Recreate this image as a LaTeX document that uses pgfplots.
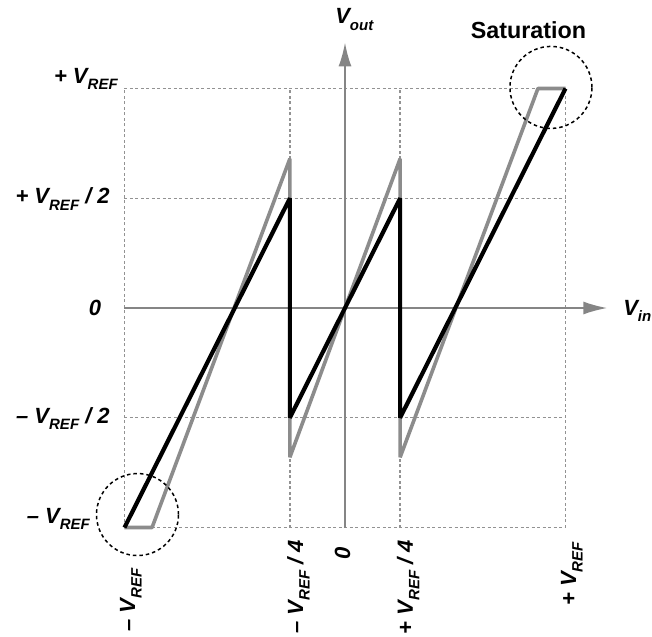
\documentclass[border=0pt]{standalone}
\usepackage{fontspec}
\setmainfont{Liberation Sans}
\usepackage{pgfplots}
\pgfplotsset{compat=1.18}
\usetikzlibrary{arrows.meta}

\definecolor{axisgray}{HTML}{858585}
\definecolor{gridgray}{HTML}{929292}
\definecolor{idealgray}{HTML}{8C8C8C}

\newcommand{\lbl}{\fontsize{22}{26}\selectfont\bfseries\itshape}
\newcommand{\sub}[1]{\raisebox{-6.5pt}{\fontsize{15}{17}\selectfont #1}}
\newcommand{\vref}{V\sub{REF}}

\begin{document}
\begin{tikzpicture}
\begin{axis}[
  x=220.5pt, y=219.5pt,
  xmin=-1, xmax=1, ymin=-1, ymax=1,
  hide axis, clip=false,
]
% dotted reference grid
\tikzset{gridline/.style={gridgray, line width=1.35pt, dash pattern=on 3pt off 2.5pt}}
\draw[gridline] (axis cs:-1,1) -- (axis cs:1,1);
\draw[gridline] (axis cs:-1,0.5) -- (axis cs:1,0.5);
\draw[gridline] (axis cs:-1,-0.5) -- (axis cs:1,-0.5);
\draw[gridline] (axis cs:-1,-1) -- (axis cs:1,-1);
\draw[gridline] (axis cs:-1,-1) -- (axis cs:-1,1);
\draw[gridline] (axis cs:-0.25,-1) -- (axis cs:-0.25,1);
\draw[gridline] (axis cs:0.25,-1) -- (axis cs:0.25,1);
\draw[gridline] (axis cs:1,-1) -- (axis cs:1,1);

% axes with arrows
\draw[axisgray, line width=2pt, -{Latex[length=24pt, width=13pt]}]
  (axis cs:-1,0) -- (axis cs:1.19,0);
\draw[axisgray, line width=2pt, -{Latex[length=24pt, width=13pt]}]
  (axis cs:0,-1) -- (axis cs:0,1.21);

% transfer with saturation (gray)
\addplot[idealgray, line width=3.6pt, line join=bevel] coordinates {
  (-1,-1) (-0.875,-1) (-0.25,0.68) (-0.25,-0.68) (0.25,0.68)
  (0.25,-0.68) (0.875,1) (1,1)
};
% transfer (black)
\addplot[black, line width=4.2pt, line join=bevel] coordinates {
  (-1,-1) (-0.25,0.5) (-0.25,-0.5) (0.25,0.5) (0.25,-0.5) (1,1)
};

% saturation regions
\draw[black, line width=1.5pt, dash pattern=on 3.5pt off 3pt]
  (axis cs:-0.941,-0.941) circle[radius=41pt];
\draw[black, line width=1.5pt, dash pattern=on 3.5pt off 3pt]
  (axis cs:0.934,1.005) circle[radius=41pt];

% vertical-axis labels
\node[anchor=base east, inner sep=0pt] at (axis cs:-1.03,1.025) {\lbl + \vref};
\node[anchor=base east, inner sep=0pt] at (axis cs:-1.066,0.474) {\lbl + \vref{} / 2};
\node[anchor=center, inner sep=0pt] at (axis cs:-1.134,0) {\lbl 0};
\node[anchor=base east, inner sep=0pt] at (axis cs:-1.066,-0.524) {\lbl -- \vref{} / 2};
\node[anchor=base east, inner sep=0pt] at (axis cs:-1.156,-0.98) {\lbl -- \vref};

% horizontal-axis labels
\node[rotate=90, anchor=base east, inner sep=0pt] at (axis cs:-0.952,-1.185) {\lbl -- \vref};
\node[rotate=90, anchor=base east, inner sep=0pt] at (axis cs:-0.19,-1.057) {\lbl -- \vref{} / 4};
\node[rotate=90, anchor=base east, inner sep=0pt] at (axis cs:0.023,-1.09) {\lbl 0};
\node[rotate=90, anchor=base east, inner sep=0pt] at (axis cs:0.308,-1.057) {\lbl + \vref{} / 4};
\node[rotate=90, anchor=base east, inner sep=0pt] at (axis cs:1.048,-1.066) {\lbl + \vref};

% axis names and annotation
\node[anchor=base west, inner sep=0pt] at (axis cs:-0.045,1.294) {\lbl V\sub{out}};
\node[anchor=base west, inner sep=0pt] at (axis cs:1.261,-0.032) {\lbl V\sub{in}};
\node[anchor=base, inner sep=0pt] at (axis cs:0.832,1.23)
  {\fontsize{23.3}{27}\selectfont\bfseries Saturation};

\coordinate (BL) at (axis cs:-1.5646,-1.4943);
\coordinate (TR) at (axis cs:1.3923,1.4032);
\end{axis}
\pgfresetboundingbox
\path (BL) rectangle (TR);
\end{tikzpicture}
\end{document}
